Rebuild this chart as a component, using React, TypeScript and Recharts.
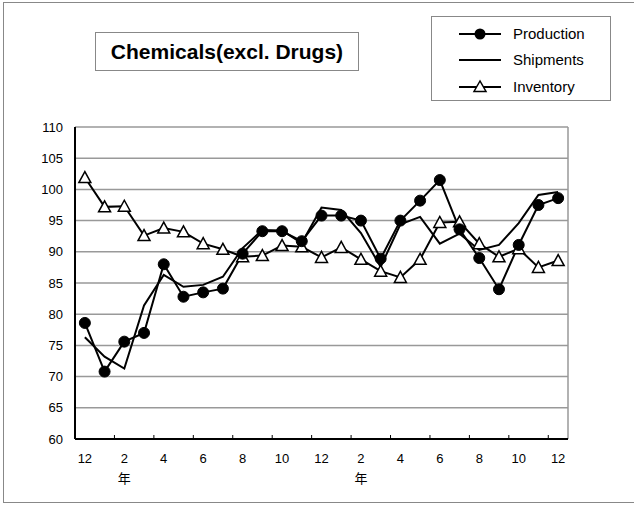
import React from 'react';
import { LineChart, Line, XAxis, YAxis, CartesianGrid } from 'recharts';

const months = ['12', '1', '2', '3', '4', '5', '6', '7', '8', '9', '10', '11', '12', '1', '2', '3', '4', '5', '6', '7', '8', '9', '10', '11', '12'];
const yearMarks = [2, 14];

const production = [78.6, 70.8, 75.6, 77.0, 88.0, 82.8, 83.5, 84.1, 89.7, 93.3, 93.3, 91.7, 95.8, 95.8, 95.0, 88.9, 95.0, 98.2, 101.5, 93.6, 89.0, 84.0, 91.1, 97.5, 98.6];
const shipments = [76.3, 73.2, 71.3, 81.4, 86.3, 84.4, 84.7, 86.0, 90.6, 93.5, 93.4, 91.4, 97.1, 96.7, 93.0, 87.6, 94.4, 95.6, 91.3, 92.9, 90.3, 91.1, 94.6, 99.1, 99.6];
const inventory = [101.9, 97.2, 97.3, 92.6, 93.8, 93.2, 91.3, 90.4, 89.2, 89.4, 91.0, 90.8, 89.1, 90.7, 88.8, 86.9, 85.9, 88.8, 94.7, 94.8, 91.3, 89.2, 90.5, 87.5, 88.6];

const yTicks = [60, 65, 70, 75, 80, 85, 90, 95, 100, 105, 110];

const data = months.map((m, i) => ({
  idx: i,
  production: production[i],
  shipments: shipments[i],
  inventory: inventory[i],
}));

const FONT = '"Liberation Sans", Arial, "Noto Sans CJK JP", sans-serif';
const PLOT_LEFT = 75;
const PLOT_RIGHT = 568;
const PLOT_TOP = 127;
const PLOT_BOTTOM = 439;
const BAND = (PLOT_RIGHT - PLOT_LEFT) / months.length;

const MonthTick = (props: any) => {
  const { x, payload } = props;
  const i = Number(payload.value);
  return (
    <g>
      {i > 0 && (
        <line x1={x - BAND / 2} x2={x - BAND / 2} y1={PLOT_BOTTOM - 4} y2={PLOT_BOTTOM} stroke="#000" strokeWidth={1} />
      )}
      <text x={x} y={PLOT_BOTTOM + 24} textAnchor="middle" fontSize={13} fontFamily={FONT} fill="#000">
        {months[i]}
      </text>
      {yearMarks.includes(i) && (
        <text x={x} y={PLOT_BOTTOM + 44} textAnchor="middle" fontSize={13} fontFamily='"Noto Sans CJK JP", sans-serif' fill="#000">
          年
        </text>
      )}
    </g>
  );
};

const Triangle = (props: any) => {
  const { cx, cy } = props;
  if (cx == null || cy == null) return null;
  return (
    <polygon
      points={`${cx},${cy - 6} ${cx - 6},${cy + 5} ${cx + 6},${cy + 5}`}
      fill="#fff"
      stroke="#000"
      strokeWidth={1.5}
    />
  );
};

const LegendRow = ({ label, marker, top }: { label: string; marker: 'dot' | 'none' | 'tri'; top: number }) => (
  <div style={{ position: 'absolute', left: 0, top, height: 20, width: 179 }}>
    <svg width={80} height={20} style={{ position: 'absolute', left: 26, top: 0 }}>
      <line x1={1} x2={43} y1={10} y2={10} stroke="#000" strokeWidth={2} />
      {marker === 'dot' && <circle cx={22} cy={10} r={5.5} fill="#000" />}
      {marker === 'tri' && <polygon points="22,4 16,14.5 28,14.5" fill="#fff" stroke="#000" strokeWidth={1.5} />}
    </svg>
    <span style={{ position: 'absolute', left: 81, top: 0, fontSize: 15, lineHeight: '20px', fontFamily: FONT }}>{label}</span>
  </div>
);

export default function App() {
  return (
    <div style={{ position: 'absolute', left: 0, top: 0, width: 634, height: 505, overflow: 'hidden', background: '#fff' }}>
      <div style={{ position: 'absolute', left: 3, top: 2, width: 631, height: 499, border: '1px solid #888', borderRight: 'none' }} />
      <LineChart
        width={634}
        height={505}
        data={data}
        margin={{ top: PLOT_TOP, right: 634 - PLOT_RIGHT, bottom: 505 - PLOT_BOTTOM - 40, left: PLOT_LEFT - 40 }}
        style={{ position: 'absolute', left: 0, top: 0 }}
      >
        <CartesianGrid
          stroke="#999"
          strokeWidth={1.5}
          verticalCoordinatesGenerator={({ offset }: any) => [offset.left + offset.width]}
        />
        <XAxis
          dataKey="idx"
          type="category"
          interval={1}
          height={40}
          padding={{ left: BAND / 2, right: BAND / 2 }}
          tickLine={false}
          axisLine={{ stroke: '#000', strokeWidth: 2 }}
          tick={<MonthTick />}
        />
        <YAxis
          domain={[60, 110]}
          ticks={yTicks}
          width={40}
          tickLine={false}
          axisLine={{ stroke: '#000', strokeWidth: 2 }}
          tick={{ fontSize: 13, fill: '#000', fontFamily: FONT }}
          tickMargin={6}
        />
        <Line dataKey="inventory" stroke="#000" strokeWidth={2} dot={<Triangle />} isAnimationActive={false} />
        <Line dataKey="shipments" stroke="#000" strokeWidth={2} dot={false} isAnimationActive={false} />
        <Line dataKey="production" stroke="#000" strokeWidth={2} dot={{ r: 5.5, fill: '#000', stroke: '#000', strokeWidth: 1 }} isAnimationActive={false} />
      </LineChart>
      <div
        style={{
          position: 'absolute', left: 95, top: 32, width: 262, height: 37, border: '1px solid #888',
          display: 'flex', alignItems: 'center', justifyContent: 'center',
          fontFamily: FONT, fontWeight: 'bold', fontSize: 21, background: '#fff',
        }}
      >
        Chemicals(excl. Drugs)
      </div>
      <div style={{ position: 'absolute', left: 431, top: 16, width: 178, height: 83, border: '1px solid #888', background: '#fff' }}>
        <LegendRow label="Production" marker="dot" top={7} />
        <LegendRow label="Shipments" marker="none" top={33} />
        <LegendRow label="Inventory" marker="tri" top={60} />
      </div>
    </div>
  );
}
